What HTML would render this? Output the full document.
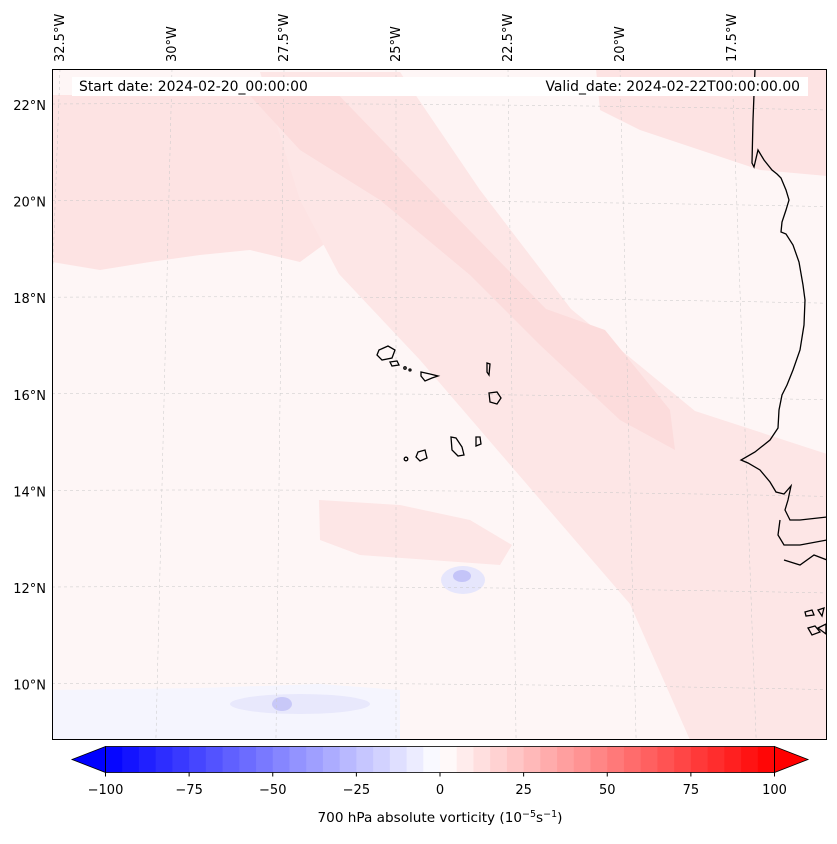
<!DOCTYPE html>
<html><head><meta charset="utf-8"><style>
body{margin:0;background:#fff;width:837px;height:839px;overflow:hidden;font-family:"Liberation Sans","DejaVu Sans",sans-serif}
svg text{font-family:"DejaVu Sans","Liberation Sans",sans-serif}
</style></head><body>
<svg id="chart" width="837" height="839" xmlns="http://www.w3.org/2000/svg">
<defs><clipPath id="mapclip"><rect x="52" y="69" width="775" height="671"/></clipPath></defs>
<g clip-path="url(#mapclip)">
<rect x="52" y="69" width="775" height="671" fill="#fef6f6"/>
<path fill="#fde3e3" d="M52,95 L340,95 L345,180 L330,240 L300,262 L250,250 L200,255 L150,262 L100,270 L52,262 Z"/>
<path fill="#fde3e3" d="M596,69 L827,69 L827,176 L760,170 L700,150 L640,130 L600,110 Z"/>
<path fill="#fde6e6" d="M260,72 L400,72 L480,190 L571,309 L695,411 L827,454 L827,740 L690,740 L630,604 L512,467 L420,360 L339,274 L300,200 Z"/>
<path fill="#fcdcdc" d="M240,85 L329,85 L440,200 L546,309 L605,330 L670,410 L675,450 L620,420 L540,345 L470,275 L380,200 L300,150 Z"/>
<path fill="#fde6e6" d="M319,500 L400,505 L470,520 L512,545 L500,565 L430,560 L360,555 L320,540 Z"/>
<ellipse cx="463" cy="580" rx="22" ry="14" fill="#e6e6fc"/>
<ellipse cx="462" cy="576" rx="9" ry="6" fill="#c4c4f8"/>
<path fill="#f5f5fe" d="M52,690 L200,688 L320,684 L400,690 L400,740 L52,740 Z"/>
<ellipse cx="300" cy="704" rx="70" ry="10" fill="#e8e8fc"/>
<ellipse cx="282" cy="704" rx="10" ry="7" fill="#c8c8f8"/>
</g>
<g id="grid" stroke="#c8c8c8" stroke-width="0.5" stroke-dasharray="3,3" fill="none" clip-path="url(#mapclip)"></g>
<g fill="none" stroke="#000" stroke-width="1.3" clip-path="url(#mapclip)">
<path d="M755,69 L753,120 L752,163 L754,167 L758,150 L764,160 L772,170 L777,174 L781,178 L786,190 L789,200 L786,210 L782,222 L781,232 L786,234 L793,245 L799,262 L803,285 L805,300 L804,325 L800,350 L793,370 L787,385 L782,395 L779,410 L778,428 L770,440 L755,452 L741,460 L748,463 L760,470 L770,482 L776,492 L784,494 L791,486 L788,500 L785,510 L790,520 L800,520 L827,517 M780,520 L778,535 L784,545 L800,545 L827,540 M784,560 L800,565 L814,555 L827,560"/>
<path d="M379,350 L388,346 L395,350 L392,358 L382,360 L377,355 Z"/>
<path d="M390,362 L397,361 L399,365 L392,366 Z"/>
<path d="M421,372 L430,374 L438,376 L432,378 L425,381 L421,376 Z"/>
<path d="M487,363 L490,364 L489,375 L487,372 Z"/>
<path d="M489,393 L497,392 L501,398 L497,404 L490,402 Z"/>
<path d="M451,437 L456,438 L462,447 L464,455 L458,456 L452,450 Z"/>
<path d="M476,437 L480,437 L481,444 L476,446 Z"/>
<path d="M418,452 L425,450 L427,458 L420,461 L416,457 Z"/>
<circle cx="406" cy="459" r="1.8"/>
<circle cx="405" cy="368" r="1.2"/><circle cx="410" cy="370" r="1"/>
<path d="M805,612 L812,610 L814,615 L806,616 Z M818,610 L824,608 L822,616 Z M808,628 L815,626 L820,632 L812,635 Z M818,628 L826,624 L826,634 Z"/>
</g>
<rect x="72" y="77" width="736" height="19" fill="#fff"/>
<text x="79" y="91" font-size="13.9">Start date: 2024-02-20_00:00:00</text>
<text x="800" y="91" font-size="13.9" text-anchor="end">Valid_date: 2024-02-22T00:00:00.00</text>
<rect x="52.5" y="69.5" width="774" height="670" fill="none" stroke="#000" stroke-width="1"/>
<g id="latlabels"></g>
<g id="lonlabels"></g>
<g id="cbar"></g>
<text x="440" y="822" font-size="13.6" text-anchor="middle">700 hPa absolute vorticity (10<tspan dy="-5" font-size="9.5">−5</tspan><tspan dy="5">s</tspan><tspan dy="-5" font-size="9.5">−1</tspan><tspan dy="5">)</tspan></text>
</svg>
<script>
const latTicks=[22,20,18,16,14,12,10];
const latLabels=["22°N","20°N","18°N","16°N","14°N","12°N","10°N"];
const lonTicks=[-32.5,-30,-27.5,-25,-22.5,-20,-17.5];
const lonLabels=["32.5°W","30°W","27.5°W","25°W","22.5°W","20°W","17.5°W"];
const cbarTicks=[-100,-75,-50,-25,0,25,50,75,100];
const cbarLevels=[-100,-95,-90,-85,-80,-75,-70,-65,-60,-55,-50,-45,-40,-35,-30,-25,-20,-15,-10,-5,0,5,10,15,20,25,30,35,40,45,50,55,60,65,70,75,80,85,90,95,100];
const NS="http://www.w3.org/2000/svg";
function latY(lat){return 104+(22-lat)*48.3;}
function lonX(lon,y){const top=60+(lon+32.5)*44.8;return top+(y-69)*(lon+25)*0.0048;}
function cx(v){return 440+v*3.345;}
function mk(tag,attrs,parent){const e=document.createElementNS(NS,tag);for(const k in attrs)e.setAttribute(k,attrs[k]);parent.appendChild(e);return e;}
const grid=document.getElementById('grid');
latTicks.forEach((lat,i)=>{
  const y=latY(lat);
  const p=mk('path',{d:`M52,${y} Q440,${y-2} 827,${y+6}`},grid);
  
  
  const t=mk('text',{x:46,y:y+6,'font-size':13,'text-anchor':'end'},document.getElementById('latlabels'));
  t.textContent=latLabels[i];
  
  
});
lonTicks.forEach((lon,i)=>{
  const x0=lonX(lon,69),x1=lonX(lon,740);
  const p=mk('line',{x1:x0,y1:69,x2:x1,y2:740},grid);
  
  
  const t=mk('text',{x:0,y:0,'font-size':13,transform:`translate(${x0+4},62) rotate(-90)`},document.getElementById('lonlabels'));
  t.textContent=lonLabels[i];
  
  
});
function bwr(v){const t=(v+100)/200;let r,g,b;
  if(t<0.5){const s=t/0.5;r=g=Math.round(255*s);b=255;}else{const s=(t-0.5)/0.5;r=255;g=b=Math.round(255*(1-s));}
  return `rgb(${r},${g},${b})`;}
const cb=document.getElementById('cbar');
const y0=746.5,y1=772.5;
for(let i=0;i<cbarLevels.length-1;i++){
  const a=cbarLevels[i],b=cbarLevels[i+1];
  const r=mk('rect',{x:cx(a),y:y0,width:cx(b)-cx(a)+0.5,height:y1-y0,fill:bwr((a+b)/2)},cb);
  
  
}
const lt=mk('path',{d:`M${cx(-100)},${y0} L72,${(y0+y1)/2} L${cx(-100)},${y1} Z`,fill:'rgb(0,0,255)',stroke:'#000','stroke-width':0.8},cb);


const rt=mk('path',{d:`M${cx(100)},${y0} L808,${(y0+y1)/2} L${cx(100)},${y1} Z`,fill:'rgb(255,0,0)',stroke:'#000','stroke-width':0.8},cb);


const ob=mk('rect',{x:cx(-100),y:y0,width:cx(100)-cx(-100),height:y1-y0,fill:'none',stroke:'#000','stroke-width':0.8},cb);


cbarTicks.forEach(v=>{
  const l=mk('line',{x1:cx(v),y1:y1,x2:cx(v),y2:y1+4,stroke:'#000'},cb);
  
  
  const t=mk('text',{x:cx(v),y:794,'font-size':13,'text-anchor':'middle'},cb);
  t.textContent=(v<0?'−':'')+Math.abs(v);
  
  
});
</script>
</body></html>
